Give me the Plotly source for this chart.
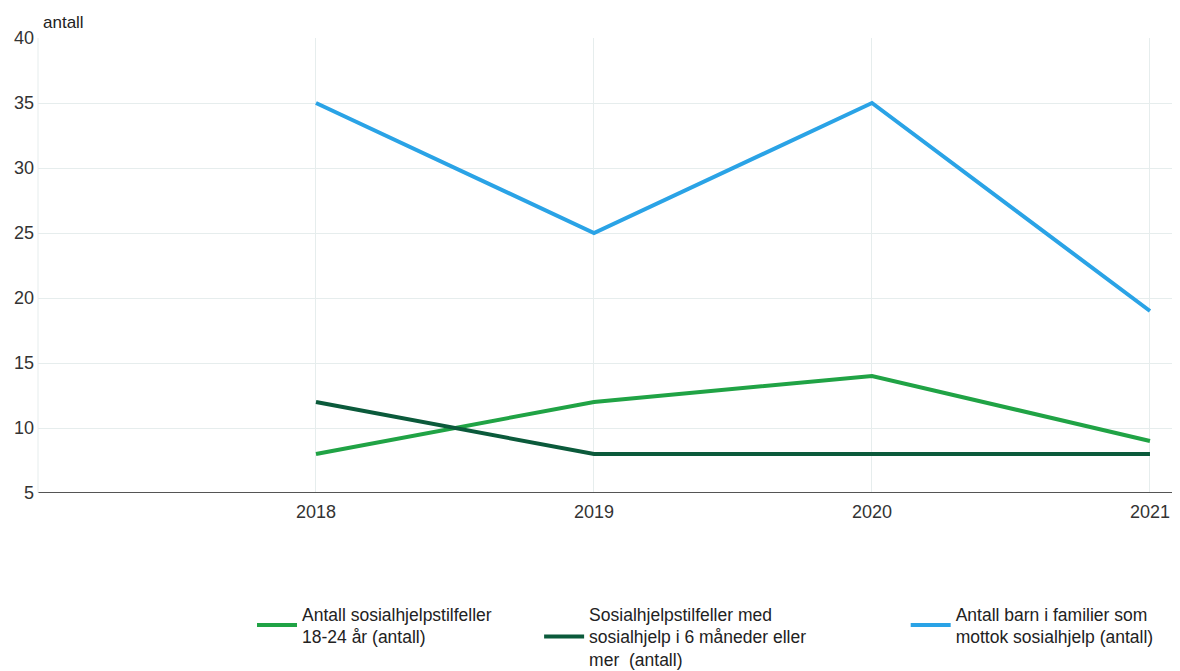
import plotly.graph_objects as go

years = [2018, 2019, 2020, 2021]
s1_name = "Antall sosialhjelpstilfeller<br>18-24 år (antall)"
s1 = [8, 12, 14, 9]
s2_name = "Sosialhjelpstilfeller med<br>sosialhjelp i 6 måneder eller<br>mer  (antall)"
s2 = [12, 8, 8, 8]
s3_name = "Antall barn i familier som<br>mottok sosialhjelp (antall)"
s3 = [35, 25, 35, 19]
y_ticks = [5, 10, 15, 20, 25, 30, 35, 40]

colors = ["#20a345", "#0b5a3b", "#2aa3e6"]
legend_ids = ["legend", "legend2", "legend3"]
legend_x = [0.1874, 0.4388, 0.7598]

fig = go.Figure()
for name, vals, c, lg in zip([s1_name, s2_name, s3_name], [s1, s2, s3], colors, legend_ids):
    fig.add_trace(go.Scatter(x=years, y=vals, name=name, mode="lines", legend=lg,
                             line=dict(color=c, width=4)))

leg_common = dict(orientation="v", xanchor="left", y=-0.226, yanchor="top",
                  font=dict(size=17.5, color="#222222", family="Liberation Sans, Arial, sans-serif"),
                  itemwidth=40, valign="middle", bgcolor="rgba(0,0,0,0)")

# page body has an 8px default margin, so the figure is sized to fit the window
fig.update_layout(
    width=1172, height=663,
    margin=dict(l=30, r=0, t=30, b=178, autoexpand=False),
    plot_bgcolor="white", paper_bgcolor="white",
    font=dict(family="Liberation Sans, Arial, sans-serif", size=18, color="#333333"),
    showlegend=True,
    legend=dict(x=legend_x[0], **leg_common),
    legend2=dict(x=legend_x[1], **leg_common),
    legend3=dict(x=legend_x[2], **leg_common),
    xaxis=dict(range=[2017, 2021.108], tickvals=years, ticktext=[str(y) for y in years],
               showgrid=True, gridcolor="#e6eded", gridwidth=1, zeroline=False,
               showline=False, ticks="", ticklabelstandoff=6, automargin=False),
    yaxis=dict(range=[5, 40], tickvals=y_ticks, showgrid=True, gridcolor="#e6eded",
               gridwidth=1, zeroline=False, showline=False, ticks="", ticklabelstandoff=3,
               automargin=False),
    shapes=[dict(type="line", xref="paper", yref="y", x0=0, x1=1, y0=5, y1=5,
                 line=dict(color="#555555", width=2)),
            dict(type="line", xref="paper", yref="paper", x0=0, x1=0, y0=0, y1=1,
                 line=dict(color="#e6eded", width=1))],
    annotations=[dict(text="antall", xref="paper", yref="paper", x=0.003, y=1.0,
                      xanchor="left", yanchor="bottom", yshift=4, showarrow=False,
                      font=dict(size=17, color="#222222"))],
)

fig.write_html("out.html")
